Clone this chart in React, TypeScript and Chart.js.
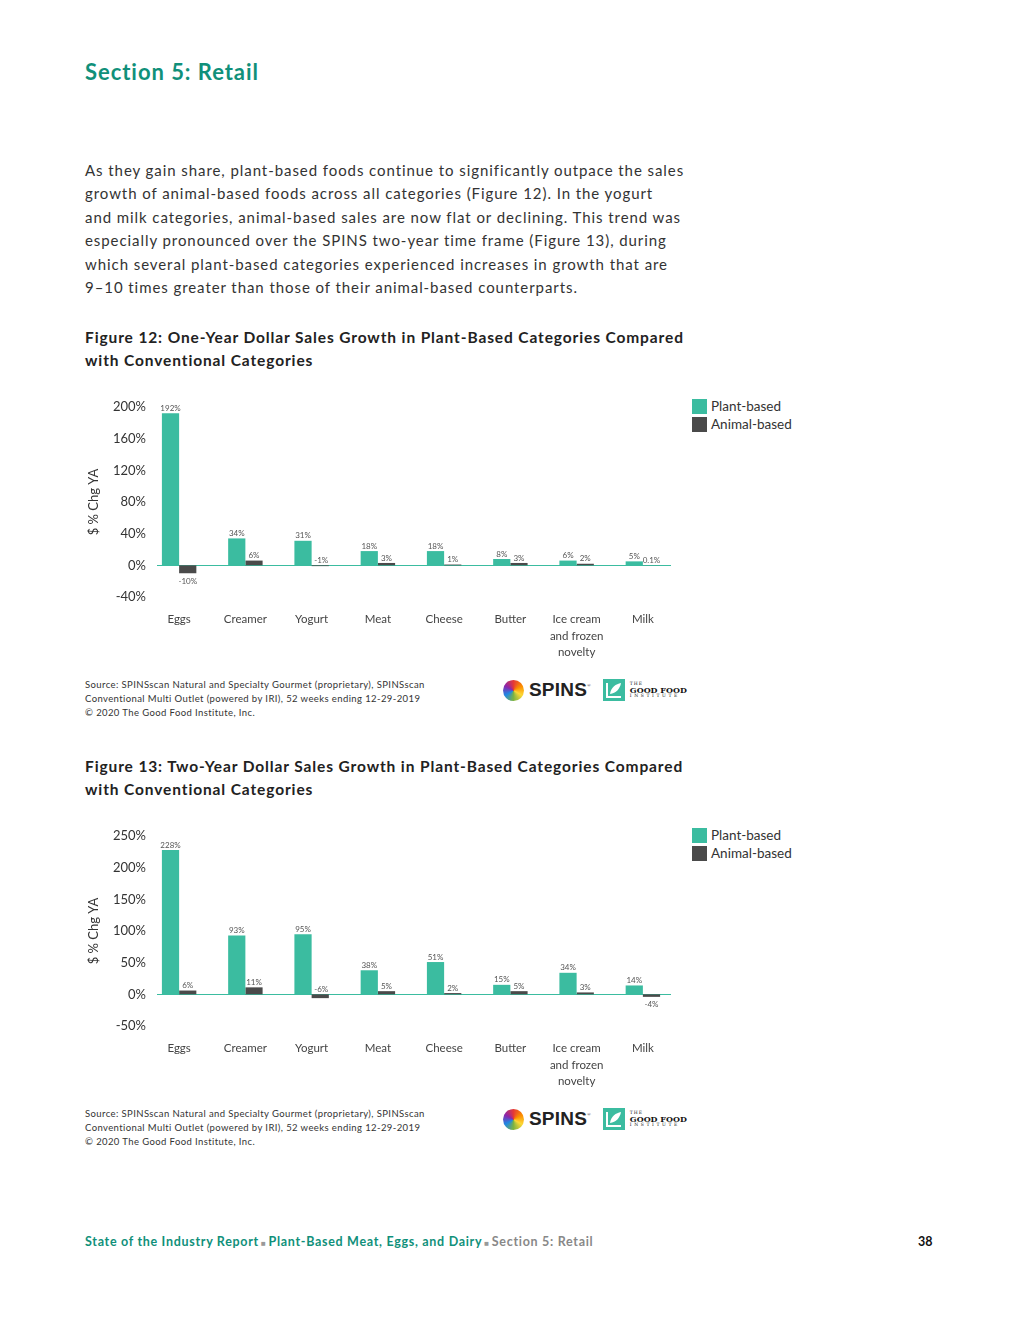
import React, { useEffect, useRef } from "react";
import { Chart, registerables } from "chart.js";

Chart.register(...registerables);

const categories: (string | string[])[] = [
  "Eggs",
  "Creamer",
  "Yogurt",
  "Meat",
  "Cheese",
  "Butter",
  ["Ice cream", "and frozen", "novelty"],
  "Milk",
];
const seriesNames = ["Plant-based", "Animal-based"];
const oneYearPlant = [192, 34, 31, 18, 18, 8, 6, 5];
const oneYearAnimal = [-10, 6, -1, 3, 1, 3, 2, 0.1];
const twoYearPlant = [228, 93, 95, 38, 51, 15, 34, 14];
const twoYearAnimal = [6, 11, -6, 5, 2, 5, 3, -4];
const oneYearTicks = [-40, 0, 40, 80, 120, 160, 200];
const twoYearTicks = [-50, 0, 50, 100, 150, 200, 250];

const TEAL = "#3bbca0";
const DARK = "#4a4a4a";
const GREEN = "#10907a";
const FONT = "Lato, 'Open Sans', sans-serif";

const paragraph = [
  "As they gain share, plant-based foods continue to significantly outpace the sales",
  "growth of animal-based foods across all categories (Figure 12). In the yogurt",
  "and milk categories, animal-based sales are now flat or declining. This trend was",
  "especially pronounced over the SPINS two-year time frame (Figure 13), during",
  "which several plant-based categories experienced increases in growth that are",
  "9–10 times greater than those of their animal-based counterparts.",
];

const sourceLines = [
  "Source: SPINSscan Natural and Specialty Gourmet (proprietary), SPINSscan",
  "Conventional Multi Outlet (powered by IRI), 52 weeks ending 12-29-2019",
  "© 2020 The Good Food Institute, Inc.",
];

const labelPlugin = {
  id: "barLabels",
  beforeDatasetsDraw(chart: any) {
    const { ctx, chartArea, scales } = chart;
    const y0 = scales.y.getPixelForValue(0);
    ctx.save();
    ctx.strokeStyle = TEAL;
    ctx.lineWidth = 1;
    ctx.beginPath();
    ctx.moveTo(chartArea.left + 11, Math.round(y0) + 0.5);
    ctx.lineTo(chartArea.right - 5, Math.round(y0) + 0.5);
    ctx.stroke();
    ctx.restore();
  },
  afterDatasetsDraw(chart: any, _args: any, opts: any) {
    const { ctx, scales } = chart;
    const y0 = scales.y.getPixelForValue(0);
    const aboveSet: number[] = opts.negAbove || [];
    ctx.save();
    ctx.font = `8px ${FONT}`;
    ctx.fillStyle = "#555";
    ctx.textAlign = "center";
    chart.data.datasets.forEach((ds: any, di: number) => {
      const meta = chart.getDatasetMeta(di);
      meta.data.forEach((el: any, i: number) => {
        const v = ds.data[i];
        const txt = `${v}%`;
        if (v >= 0) {
          ctx.textBaseline = "bottom";
          ctx.fillText(txt, el.x, el.y - 1);
        } else if (aboveSet.includes(i)) {
          ctx.textBaseline = "bottom";
          ctx.fillText(txt, el.x + 1, y0 - 1);
        } else {
          ctx.textBaseline = "top";
          ctx.fillText(txt, el.x, el.y + 4);
        }
      });
    });
    ctx.restore();
  },
};

function BarChart(props: { plant: number[]; animal: number[]; ticks: number[] }) {
  const ref = useRef<HTMLCanvasElement>(null);
  useEffect(() => {
    if (!ref.current) return;
    const t = props.ticks;
    const chart = new Chart(ref.current, {
      type: "bar",
      data: {
        labels: categories,
        datasets: [
          { label: seriesNames[0], data: props.plant, backgroundColor: TEAL },
          { label: seriesNames[1], data: props.animal, backgroundColor: DARK },
        ],
      },
      plugins: [labelPlugin],
      options: {
        animation: false,
        responsive: false,
        devicePixelRatio: 1,
        layout: { padding: { top: 17, right: 14, left: 0, bottom: 0 } },
        datasets: { bar: { categoryPercentage: 0.52, barPercentage: 1 } },
        plugins: {
          legend: { display: false },
          tooltip: { enabled: false },
          barLabels: { negAbove: [2] },
        } as any,
        scales: {
          x: {
            grid: { display: false, drawTicks: false },
            border: { display: false },
            ticks: {
              color: "#444",
              font: { family: FONT, size: 11.5, lineHeight: 1.45 },
              padding: 14,
              maxRotation: 0,
              autoSkip: false,
            },
            afterFit: (s: any) => {
              s.height = 73;
            },
          },
          y: {
            min: t[0],
            max: t[t.length - 1],
            grid: { display: false, drawTicks: false },
            border: { display: false },
            ticks: {
              stepSize: t[1] - t[0],
              color: "#333",
              font: { family: FONT, size: 13 },
              padding: 0,
              callback: (v: any) => `${v}%`,
            },
            title: {
              display: true,
              text: "$ % Chg YA",
              color: "#333",
              font: { family: FONT, size: 13 },
              padding: { top: 6, bottom: 0 },
            },
            afterFit: (s: any) => {
              s.width = 66;
            },
          },
        },
      },
    });
    return () => chart.destroy();
  }, []);
  return <canvas ref={ref} width={610} height={280} style={{ width: 610, height: 280, display: "block" }} />;
}

function Legend({ top }: { top: number }) {
  return (
    <div style={{ position: "absolute", left: 692, top, fontFamily: FONT, fontSize: 13.5, color: "#333" }}>
      {seriesNames.map((n, i) => (
        <div key={n} style={{ display: "flex", alignItems: "center", height: 18 }}>
          <div style={{ width: 15, height: 15, background: i === 0 ? TEAL : DARK, marginRight: 4 }} />
          <span>{n}</span>
        </div>
      ))}
    </div>
  );
}

function Source({ top }: { top: number }) {
  return (
    <div
      style={{
        position: "absolute",
        left: 85,
        top,
        fontFamily: FONT,
        fontSize: 9.5,
        letterSpacing: 0.4,
        color: "#333",
        lineHeight: "14px",
      }}
    >
      {sourceLines.map((l) => (
        <div key={l} style={{ whiteSpace: "nowrap" }}>{l}</div>
      ))}
    </div>
  );
}

function Logos({ top }: { top: number }) {
  return (
    <div style={{ position: "absolute", left: 503, top, height: 22, display: "flex", alignItems: "center" }}>
      <div
        style={{
          width: 21,
          height: 21,
          borderRadius: "50%",
          background: "conic-gradient(#e53935, #fb8c00, #fdd835, #7cb342, #1e88e5, #8e24aa, #e53935)",
          marginRight: 5,
        }}
      />
      <span style={{ fontFamily: "'Liberation Sans', Arial, sans-serif", fontWeight: 700, fontSize: 19, color: "#222", letterSpacing: 0.2 }}>
        SPINS
      </span>
      <span style={{ fontSize: 5, color: "#222", alignSelf: "flex-start", marginTop: 4, marginRight: 12 }}>®</span>
      <div style={{ width: 22, height: 22, background: TEAL, position: "relative", marginRight: 5 }}>
        <svg width="22" height="22" viewBox="0 0 22 22">
          <path d="M4 4 L4 18 L18 18" stroke="#fff" strokeWidth="2" fill="none" />
          <path d="M7 15 C8 8, 13 5, 18 4 C17 10, 13 14, 7 15 Z" fill="#fff" />
        </svg>
      </div>
      <div style={{ fontFamily: "'DejaVu Serif', serif", color: "#111", lineHeight: "6px" }}>
        <div style={{ fontSize: 4.5, letterSpacing: 1 }}>THE</div>
        <div style={{ fontSize: 8, fontWeight: 700 }}>GOOD FOOD</div>
        <div style={{ fontSize: 4.5, letterSpacing: 2.6 }}>INSTITUTE</div>
      </div>
    </div>
  );
}

function FigTitle({ top, lines }: { top: number; lines: string[] }) {
  return (
    <div
      style={{
        position: "absolute",
        left: 85,
        top,
        fontFamily: FONT,
        fontWeight: 700,
        fontSize: 15.5,
        letterSpacing: 0.88,
        color: "#222",
        lineHeight: "23px",
      }}
    >
      {lines.map((l) => (
        <div key={l} style={{ whiteSpace: "nowrap" }}>{l}</div>
      ))}
    </div>
  );
}

export default function App() {
  return (
    <div style={{ position: "absolute", left: 0, top: 0, width: 1020, height: 1320, background: "#fff", overflow: "hidden" }}>
      <div
        style={{
          position: "absolute",
          left: 85,
          top: 58,
          fontFamily: FONT,
          fontWeight: 700,
          fontSize: 22,
          letterSpacing: 0.95,
          color: GREEN,
        }}
      >
        Section 5: Retail
      </div>
      <div
        style={{
          position: "absolute",
          left: 85,
          top: 159,
          fontFamily: FONT,
          fontSize: 15,
          letterSpacing: 0.93,
          color: "#333",
          lineHeight: "23.4px",
        }}
      >
        {paragraph.map((l) => (
          <div key={l} style={{ whiteSpace: "nowrap" }}>{l}</div>
        ))}
      </div>

      <FigTitle
        top={326}
        lines={["Figure 12: One-Year Dollar Sales Growth in Plant-Based Categories Compared", "with Conventional Categories"]}
      />
      <div style={{ position: "absolute", left: 80, top: 390 }}>
        <BarChart plant={oneYearPlant} animal={oneYearAnimal} ticks={oneYearTicks} />
      </div>
      <Legend top={397} />
      <Source top={678} />
      <Logos top={679} />

      <FigTitle
        top={755}
        lines={["Figure 13: Two-Year Dollar Sales Growth in Plant-Based Categories Compared", "with Conventional Categories"]}
      />
      <div style={{ position: "absolute", left: 80, top: 819 }}>
        <BarChart plant={twoYearPlant} animal={twoYearAnimal} ticks={twoYearTicks} />
      </div>
      <Legend top={826} />
      <Source top={1107} />
      <Logos top={1108} />

      <div
        style={{
          position: "absolute",
          left: 85,
          top: 1234,
          fontFamily: FONT,
          fontWeight: 700,
          fontSize: 12.5,
          letterSpacing: 0.7,
          color: GREEN,
          whiteSpace: "nowrap",
        }}
      >
        State of the Industry Report
        <span style={{ color: "#999", fontSize: 8, margin: "0 2px" }}>■</span>
        Plant-Based Meat, Eggs, and Dairy
        <span style={{ color: "#999", fontSize: 8, margin: "0 2px" }}>■</span>
        <span style={{ color: "#888" }}>Section 5: Retail</span>
      </div>
      <div style={{ position: "absolute", left: 918, top: 1234, fontFamily: FONT, fontWeight: 700, fontSize: 12.5, color: "#111" }}>
        38
      </div>
    </div>
  );
}
